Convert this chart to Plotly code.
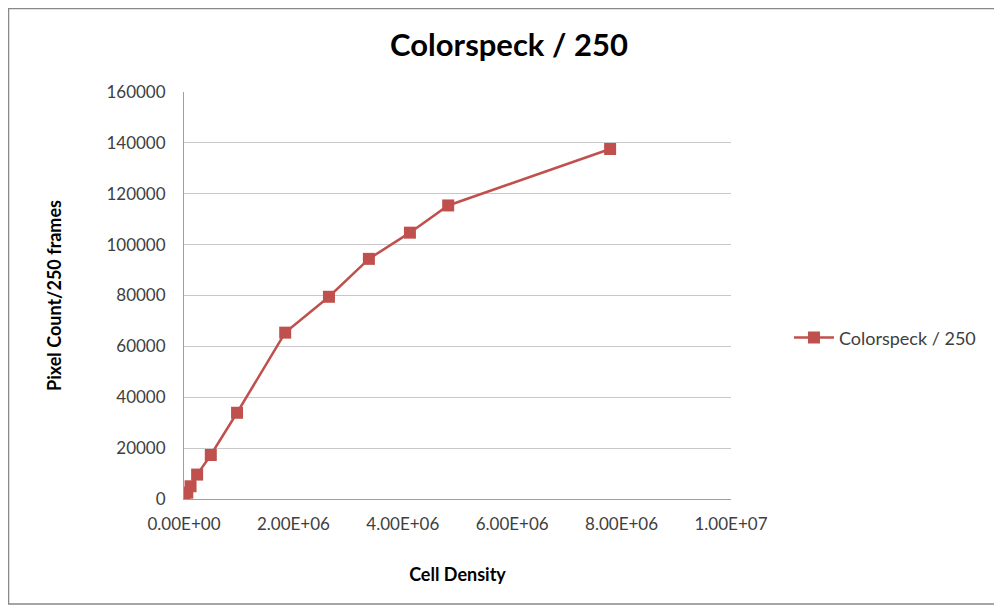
import plotly.graph_objects as go

series_name = "Colorspeck / 250"
cell_density = [1.0e4, 6.0e4, 1.2e5, 2.4e5, 4.9e5, 9.7e5, 1.85e6, 2.65e6, 3.38e6, 4.13e6, 4.83e6, 7.79e6]
pixel_count = [500, 2500, 5000, 9600, 17300, 33900, 65400, 79500, 94400, 104700, 115400, 137600]
x_ticks = [0, 2e6, 4e6, 6e6, 8e6, 1e7]
x_tick_labels = ["0.00E+00", "2.00E+06", "4.00E+06", "6.00E+06", "8.00E+06", "1.00E+07"]
y_ticks = [0, 20000, 40000, 60000, 80000, 100000, 120000, 140000, 160000]

red = "#C0504D"
font_family = "Lato, 'Open Sans', sans-serif"

# page has an 8px body offset; plot area should sit at page x 184..731, y 92..499
L, T, PW, PH = 176, 84, 547, 407
W, H = 1002, 607

fig = go.Figure()
fig.add_trace(go.Scatter(
    x=cell_density, y=pixel_count, mode="lines+markers", name=series_name,
    line=dict(color=red, width=2.5),
    marker=dict(symbol="square", size=12, color=red),
))

fig.update_layout(
    width=W, height=H,
    margin=dict(l=L, r=W - L - PW, t=T, b=H - T - PH),
    paper_bgcolor="white", plot_bgcolor="white",
    font=dict(family=font_family, color="#404040", size=17),
    title=dict(text="<b>" + series_name + "</b>", x=0.5, xanchor="center",
               xref="container", y=1 - 37 / H, yanchor="middle",
               font=dict(size=31, color="black", family=font_family)),
    showlegend=True,
    legend=dict(x=1.106, y=0.396, xanchor="left", yanchor="middle", itemwidth=40,
                font=dict(size=18, color="#404040"), bgcolor="rgba(0,0,0,0)"),
    xaxis=dict(range=[0, 1e7], tickvals=x_ticks, ticktext=x_tick_labels,
               showgrid=False, zeroline=False, showline=True, linecolor="#a0a0a0",
               ticks="", ticklabelstandoff=10,
               title=dict(text="<b>Cell Density</b>", font=dict(size=18, color="black"), standoff=34)),
    yaxis=dict(range=[0, 160000], tickvals=y_ticks, tickformat="d", showgrid=True, gridcolor="#c8c8c8",
               zeroline=False, showline=True, linecolor="#a0a0a0",
               ticks="", ticklabelstandoff=14,
               title=dict(text="<b>Pixel Count/250 frames</b>", font=dict(size=18, color="black"), standoff=40)),
    shapes=[dict(type="rect", xref="paper", yref="paper",
                 x0=(0.5 - L) / PW, x1=(991 - L) / PW,
                 y0=(T + PH - 596) / PH, y1=(T + PH - 0.5) / PH,
                 line=dict(color="#888888", width=1.5), fillcolor="rgba(0,0,0,0)", layer="below")],
)

fig.write_html("out.html")
